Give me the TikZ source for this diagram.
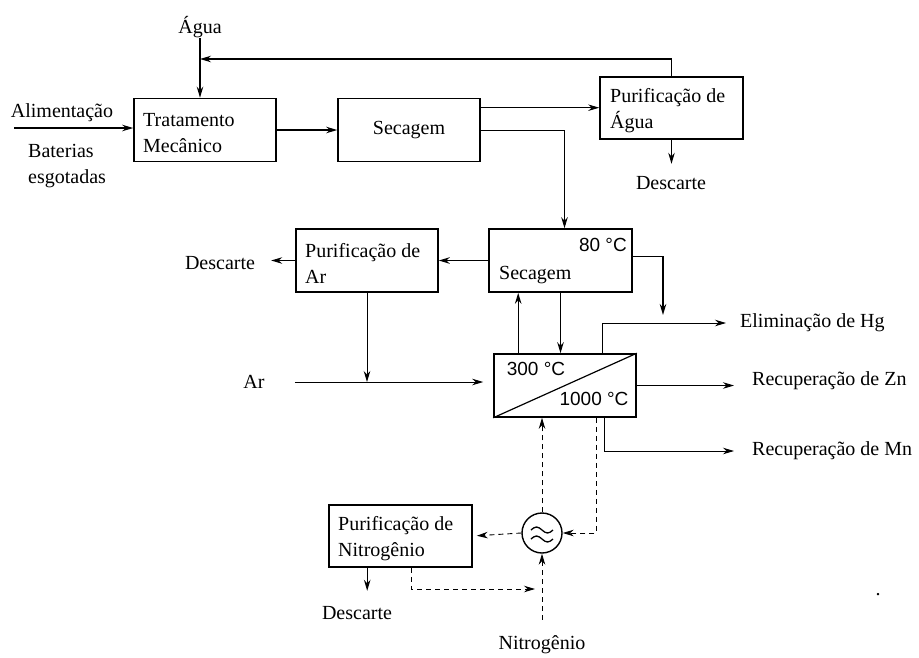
\documentclass[tikz,border=0pt]{standalone}
\usepackage{fontspec}
\setmainfont{Liberation Serif}
\newfontfamily\arialf{Liberation Sans}
\usetikzlibrary{arrows.meta,calc}
\begin{document}
\begin{tikzpicture}[x=1pt,y=-1pt,
  pbox/.style={draw, line width=1.6pt, inner sep=0pt, minimum width=142pt, minimum height=63pt},
  txt/.style={font=\fontsize{20}{26}\selectfont, inner sep=0pt, align=left},
  tmp/.style={font=\arialf\fontsize{19}{22}\selectfont, inner sep=0pt},
  flow/.style={line width=1.2pt, -{Stealth[length=11pt,width=6.5pt]}},
  thinflow/.style={flow, line width=0.9pt},
  dflow/.style={flow, line width=0.9pt, dash pattern=on 5pt off 4pt}]
\useasboundingbox (0,0) rectangle (919,657);
% boxes
\node[pbox] (trat) at (205,130) {};
\node[pbox] (sec1) at (409,130) {};
\node[pbox, minimum width=143pt, minimum height=62pt] (pagua) at (671.5,108) {};
\node[pbox, minimum width=143pt] (sec2) at (560.5,260.5) {};
\node[pbox] (par) at (367,260.5) {};
\node[pbox] (forno) at (565,385.5) {};
\node[pbox, minimum width=143pt, minimum height=62pt] (pn2) at (400.5,536) {};
\node[draw, circle, line width=1.4pt, minimum size=40pt, inner sep=0pt] (hx) at (542,533) {};
\draw[line width=1.3pt] ([shift={(-11,-3)}]hx.center) sin ++(5.5,-3) cos ++(5.5,3) sin ++(5.5,3) cos ++(5.5,-3);
\draw[line width=1.3pt] ([shift={(-11,6)}]hx.center) sin ++(5.5,-3) cos ++(5.5,3) sin ++(5.5,3) cos ++(5.5,-3);
\draw[line width=1.2pt] (forno.south west) -- (forno.north east);
% box texts
\node[txt, anchor=west] (tratT) at (143,133) {Tratamento\\Mecânico};
\node[txt] (sec1T) at (409,130) {Secagem};
\node[txt, anchor=west] (paguaT) at (610,111) {Purificação de\\Água};
\node[tmp, anchor=east] (t80) at (627,245) {80 °C};
\node[txt, anchor=west] (sec2T) at (499,275) {Secagem};
\node[txt, anchor=west] (parT) at (305,263) {Purificação de\\Ar};
\node[tmp] (t300) at (536,369) {300 °C};
\node[tmp] (t1000) at (594,399) {1000 °C};
\node[txt, anchor=west] (pn2T) at (338,539) {Purificação de\\Nitrogênio};
% outer labels
\node[txt] (agua) at (200,27) {Água};
\node[txt] (alim) at (62,113) {Alimentação};
\node[txt, anchor=west] (bat) at (28,166) {Baterias\\esgotadas};
\node[txt] (desc1) at (671,183) {Descarte};
\node[txt] (desc2) at (220,263) {Descarte};
\node[txt] (ar) at (254,382) {Ar};
\node[txt, anchor=west] (hg) at (740,323) {Eliminação de Hg};
\node[txt, anchor=west] (zn) at (752,381) {Recuperação de Zn};
\node[txt, anchor=west] (mn) at (752,451) {Recuperação de Mn};
\node[txt] (desc3) at (357,613) {Descarte};
\node[txt] (n2) at (542,645) {Nitrogênio};
\node[txt] (dot) at (878,595) {.};
% coordinates
\coordinate (jw) at (200,59);
\coordinate (alimS) at (14,128);
\coordinate (hgin) at (663,315);
\coordinate (n2j) at (542,589);
\coordinate (s1p) at ($(sec1.north east)+(0,10)$);
\coordinate (s2in) at ($(sec2.north)+(4,0)$);
\coordinate (fup) at ($(forno.north west)+(25,0)$);
\coordinate (s2out) at ($(sec2.east)+(0,-4)$);
\coordinate (fhg) at ($(forno.north west)+(109,0)$);
\coordinate (fmn) at ($(forno.south west)+(111,0)$);
\coordinate (fn2) at ($(forno.south west)+(103,0)$);
\coordinate (pd) at ($(pn2.south west)+(39,0)$);
\coordinate (pn) at ($(pn2.south west)+(83,0)$);
% connectors
\draw[flow] (agua.south) -- (agua.south |- trat.north);
\draw[flow] (pagua.north) |- (jw);
\draw[flow] (alimS) -- (alimS -| trat.west);
\draw[flow] (trat.east) -- (sec1.west);
\draw[thinflow] (s1p) -- (s1p -| pagua.west);
\draw[thinflow] (sec1.east) -| (s2in);
\draw[flow] (pagua.south) -- ++(0,24);
\draw[flow, line width=1.6pt] (sec2.west) -- (par.east);
\draw[flow, shorten >=16pt] (par.west) -- (desc2.east |- par.west);
\draw[thinflow] (par.south) -- (par.south |- ar.east);
\draw[thinflow, shorten <=30pt, shorten >=10pt] (ar.east) -- (ar.east -| forno.west);
\draw[flow] (sec2.south) -- (sec2.south |- forno.north);
\draw[flow] (fup) -- (fup |- sec2.south);
\draw[flow, line width=1.6pt] (s2out) -| (hgin);
\draw[thinflow, shorten >=14pt] (fhg) |- (hg.west);
\draw[thinflow, shorten >=18pt] (forno.east) -- (forno.east -| zn.west);
\draw[thinflow, shorten >=18pt] (fmn) |- (mn.west);
\draw[dflow] (fn2) |- (hx.east);
\draw[dflow] (hx.north) -- (hx.north |- forno.south);
\draw[dflow, shorten >=4pt] (hx.west) -- (pn2.east);
\draw[flow] (pd) -- ++(0,23);
\draw[dflow, shorten >=7pt] (pn) |- (n2j);
\draw[dflow, shorten <=16pt] (n2.north) -- (hx.south);
\end{tikzpicture}
\end{document}
